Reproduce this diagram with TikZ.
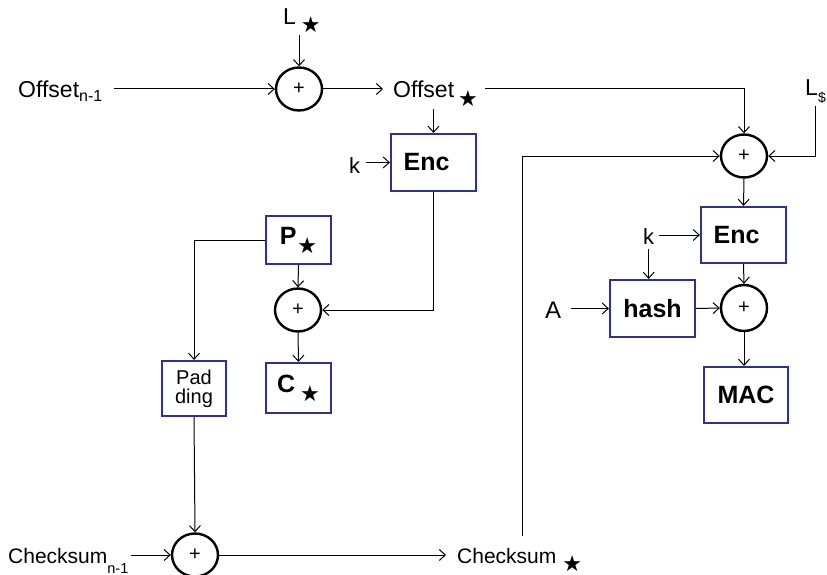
\documentclass[tikz,border=0pt]{standalone}
\usepackage{fontspec}
\setmainfont{Liberation Sans}
\newfontfamily\djv{DejaVu Sans}
\usetikzlibrary{arrows.meta,shapes.geometric}
\newcommand\fsz[1]{\fontsize{#1}{#1}\selectfont}
\newcommand\sstar[1]{\raisebox{#1}{\djv\fsz{22}★}}
\definecolor{boxblue}{RGB}{46,49,146}
\begin{document}
\begin{tikzpicture}[x=1pt,y=-1pt,
  arr/.style={line width=1pt,-{Straight Barb[length=6pt,width=11pt,line width=1pt]}},
  ln/.style={line width=1pt},
  xo/.style={ellipse,draw,line width=2.4pt,minimum width=46pt,minimum height=43pt,inner sep=0pt,font=\fsz{20}},
  bx/.style={rectangle,draw=boxblue,line width=2.2pt,inner sep=0pt,font=\bfseries\fsz{25}},
  lbl/.style={inner sep=0pt,anchor=base west,font=\fsz{23}}]
\useasboundingbox (0,0) rectangle (827,575);

% xor nodes
\node[xo] (x1) at (299,89) {+};
\node[xo] (x2) at (744,156) {+};
\node[xo] (x3) at (298,310) {+};
\node[xo] (x4) at (195,555) {+};
\node[xo,minimum height=46pt] (x5) at (744,308) {+};

% boxes
\node[bx,minimum width=85pt,minimum height=57pt] (enc1) at (433.5,162.5) {Enc\hspace*{14pt}};
\node[bx,minimum width=65pt,minimum height=48pt] (pst) at (298.5,240) {P\hspace{1pt}\sstar{-9pt}};
\node[bx,minimum width=65pt,minimum height=50pt] (cst) at (298.5,388) {C\hspace{5pt}\sstar{-9pt}};
\node[bx,minimum width=64pt,minimum height=55pt,font=\fontsize{20}{19}\selectfont,align=center] (pad) at (194,388.5) {Pad\\ding};
\node[bx,minimum width=85pt,minimum height=56pt] (enc2) at (743.5,235) {Enc\hspace*{14pt}};
\node[bx,minimum width=85pt,minimum height=57pt] (hash) at (652.5,308.5) {hash};
\node[bx,minimum width=84pt,minimum height=56pt] (mac) at (746,395) {MAC};

% labels
\node[lbl] (loff) at (18,98) {Offset\raisebox{-4pt}{\fsz{16}n-1}};
\node[lbl] (loffs) at (393,98) {Offset\hspace{4pt}\sstar{-9pt}};
\node[lbl] (ll) at (283,25) {L\hspace{5pt}\sstar{-8pt}};
\node[lbl,font=\fsz{22}] (k1) at (349,173) {k};
\node[lbl,font=\fsz{21}] (chkn) at (8,563) {Checksum\raisebox{-10pt}{\fsz{14.5}n-1}};
\node[lbl,font=\fsz{21}] (chks) at (457,563) {Checksum\hspace{6pt}\sstar{-8pt}};
\node[lbl] (ld) at (805,96) {L\raisebox{-7pt}{\fsz{14}\$}};
\node[lbl,font=\fsz{22}] (k2) at (643,244) {k};
\node[lbl,font=\fsz{24}] (la) at (545,318) {A};
\coordinate (cs) at (522,536);

% connectors
\draw[arr] ([xshift=12pt]loff.east |- x1.west) -- (x1.west);
\draw[arr] (ll.south -| x1.north) ++(0,2) -- (x1.north);
\draw[arr] (x1.east) -- ([xshift=-10pt]loffs.west |- x1.east);
\draw[arr] ([xshift=7pt]loffs.east |- x1.east) -| (x2.north);
\draw[arr] ([yshift=-2pt]loffs.south -| enc1.north) -- (enc1.north);
\draw[arr] ([xshift=6pt]k1.east |- enc1.west) -- (enc1.west);
\draw[arr] (enc1.south) |- (x3.east);
\draw[arr] (pst.south) -- (x3.north);
\draw[arr] (x3.south) -- (cst.north);
\draw[arr] (pst.west) -| (pad.north);
\draw[arr] (pad.south) -- (x4.north);
\draw[arr] ([xshift=2pt]chkn.east |- x4.west) -- (x4.west);
\draw[arr] (x4.east) -- ([xshift=-11pt]chks.west |- x4.east);
\draw[arr] (cs) |- (x2.west);
\draw[arr] ([yshift=-2pt]ld.south) |- (x2.east);
\draw[arr] (x2.south) -- (enc2.north);
\draw[arr] ([xshift=5pt]k2.east |- enc2.west) -- (enc2.west);
\draw[arr] ([yshift=-5pt]k2.south) -- (k2.south |- hash.north);
\draw[arr] ([xshift=10pt]la.east |- hash.west) -- (hash.west);
\draw[arr] (hash.east) -- (x5.west);
\draw[arr] (enc2.south) -- (x5.north);
\draw[arr] (x5.south) -- (x5.south |- mac.north);
\end{tikzpicture}
\end{document}
